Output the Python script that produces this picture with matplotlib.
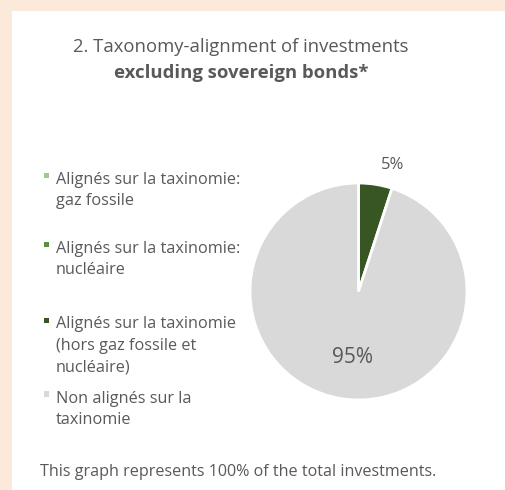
import numpy as np
import matplotlib
matplotlib.use("Agg")
import matplotlib.pyplot as plt
from matplotlib.patches import Rectangle

# data
categories = [
    "Alignés sur la taxinomie:\ngaz fossile",
    "Alignés sur la taxinomie:\nnucléaire",
    "Alignés sur la taxinomie\n(hors gaz fossile et\nnucléaire)",
    "Non alignés sur la\ntaxinomie",
]
values = [0, 0, 5, 95]
colors = ["#9DCB8A", "#5E8F3E", "#375623", "#D9D9D9"]

title_line1 = "2. Taxonomy-alignment of investments"
title_line2 = "excluding sovereign bonds*"
footnote = "This graph represents 100% of the total investments."

plt.rcParams['font.family'] = ['Open Sans', 'DejaVu Sans']
TXT = "#595959"

W, H = 506, 490
fig = plt.figure(figsize=(W / 100, H / 100), dpi=100)
fig.patch.set_facecolor("#FBE9D9")
# white panel
fig.patches.append(Rectangle((12 / W, 0), 1, 1 - 11 / H, transform=fig.transFigure,
                             facecolor="white", edgecolor="none", zorder=-5))


def fx(px):
    return px / W


def fy(py):
    return 1 - py / H


fig.text(fx(241), fy(52), title_line1, ha="center", va="baseline", fontsize=13.3, color=TXT)
fig.text(fx(241), fy(78), title_line2, ha="center", va="baseline", fontsize=13.3, color=TXT,
         fontweight="bold")

# pie
cx, cy, r = 358.5, 291.5, 108.5
ax = fig.add_axes([fx(cx - r), fy(cy + r), 2 * r / W, 2 * r / H])
ax.set_zorder(2)
ax.patch.set_alpha(0)
wedges, _ = ax.pie(values, colors=colors, startangle=90, counterclock=False,
                   wedgeprops=dict(edgecolor="white", linewidth=2))
ax.set_xlim(-1, 1)
ax.set_ylim(-1, 1)
ax.set_aspect("auto")
for w, v in zip(wedges, values):
    if v <= 0:
        continue
    ang = np.deg2rad((w.theta1 + w.theta2) / 2)
    if v < 20:
        d, fs, off = 1.22, 12, (10, -3)
    else:
        d, fs, off = 0.62, 15, (3, 0)
    ax.annotate(f"{v}%", (d * np.cos(ang), d * np.sin(ang)), xytext=off,
                textcoords="offset points", ha="center", va="center",
                fontsize=fs, color=TXT, annotation_clip=False)

# legend (baseline of first line of each entry, px from top)
baselines = [184, 253, 329, 403]
step = 21.3
for lab, col, y0 in zip(categories, colors, baselines):
    n = lab.count("\n")
    fig.patches.append(Rectangle((fx(44), fy(y0 - 6)), 5.5 / W, 5.5 / H,
                                 transform=fig.transFigure, facecolor=col, edgecolor="none"))
    fig.text(fx(56), fy(y0 + n * step), lab, ha="left", va="baseline", fontsize=11.7,
             color=TXT, linespacing=1.47)

fig.text(fx(40), fy(476), footnote, ha="left", va="baseline", fontsize=11.6, color=TXT)

fig.savefig("out.png", dpi=100, facecolor=fig.get_facecolor())
